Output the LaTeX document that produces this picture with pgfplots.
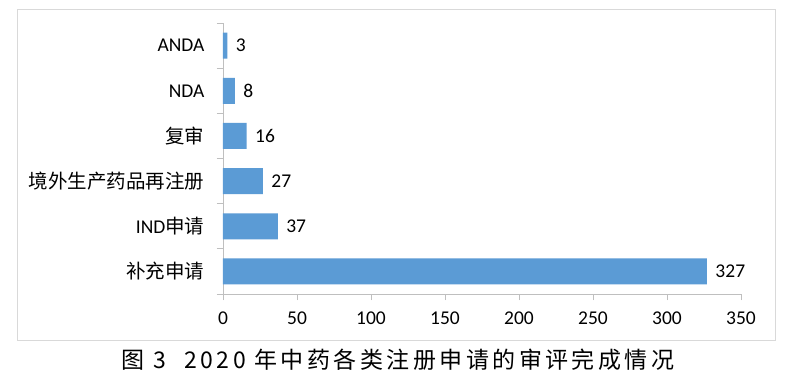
\documentclass[border=0pt]{standalone}
\usepackage{fontspec}
\setmainfont{Carlito}
\newfontfamily\cjk{Noto Sans CJK SC}
\newfontfamily\capfont[LetterSpace=15]{Noto Sans CJK SC}
\usepackage{pgfplots}
\pgfplotsset{compat=1.18}
\definecolor{barblue}{HTML}{5B9BD5}
\definecolor{axgray}{HTML}{BFBFBF}
\definecolor{framegray}{HTML}{D9D9D9}
\begin{document}
\begin{tikzpicture}[x=1pt,y=1pt]
\useasboundingbox (0,0) rectangle (796,381);
\fill[white] (0,0) rectangle (796,381);
\draw[framegray, line width=1pt] (17,41) rectangle (775,371);
\begin{axis}[
  at={(223pt,87pt)}, anchor=south west,
  scale only axis, width=518pt, height=271pt,
  xmin=0, xmax=350, ymin=-0.5, ymax=5.5,
  xtick={0,50,...,350},
  ytick={-0.5,0.5,...,5.5},
  y tick label as interval,
  yticklabels={{\cjk 补充申请},{IND\cjk 申请},{\cjk 境外生产药品再注册},{\cjk 复审},{NDA},{ANDA}},
  axis x line*=bottom, axis y line*=left,
  axis line style={axgray, line width=0.8pt, -},
  tick style={axgray, line width=0.8pt},
  tick align=outside, major tick length=6pt,
  font=\fontsize{19.5}{23}\selectfont,
  /pgf/number format/assume math mode=true,
  ticklabel style={text=black},
  xticklabel style={yshift=-8pt},
  yticklabel style={xshift=-9pt},
  xbar, bar width=26pt,
  nodes near coords,
  nodes near coords style={font=\fontsize{19.5}{23}\selectfont, anchor=west, xshift=5pt, text=black},
  clip=false,
]
\addplot[fill=barblue, draw=none] coordinates {(327,0) (37,1) (27,2) (16,3) (8,4) (3,5)};
\end{axis}
\node[font=\fontsize{23}{28}\capfont] at (398,21) {图 3\hspace{0.8em}2020 年中药各类注册申请的审评完成情况};
\end{tikzpicture}
\end{document}
